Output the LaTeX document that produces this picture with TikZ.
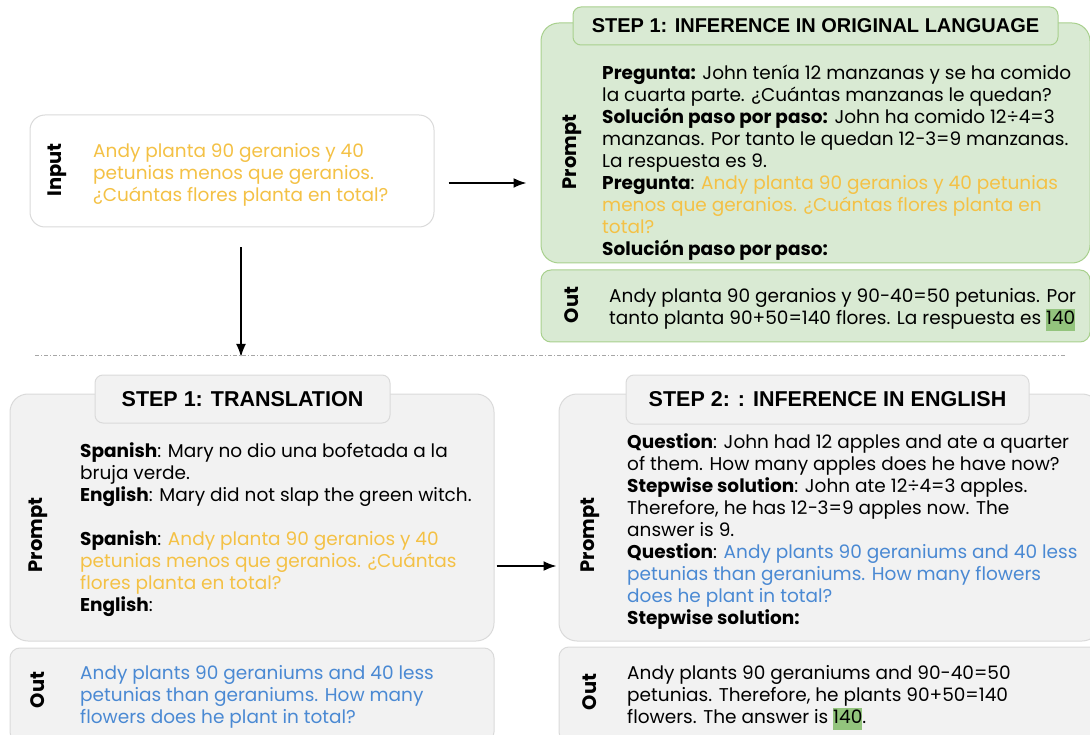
\documentclass[tikz,border=0pt]{standalone}
\usepackage{fontspec}
\setmainfont{Poppins}
\newfontfamily\headfont{Liberation Sans}
\usetikzlibrary{arrows.meta,positioning}
\definecolor{boxgray}{HTML}{F2F2F2}
\definecolor{linegray}{HTML}{DADADA}
\definecolor{boxgreen}{HTML}{D9EAD3}
\definecolor{linegreen}{HTML}{A8D08D}
\definecolor{hlgreen}{HTML}{93C47D}
\definecolor{txtyellow}{HTML}{F4C145}
\definecolor{txtblue}{HTML}{4A89D3}
\newcommand{\hlnum}[1]{{\setlength{\fboxsep}{0pt}\colorbox{hlgreen}{\strut #1}}}
\newcommand{\ylw}[1]{\textcolor{txtyellow}{#1}}
\newcommand{\blu}[1]{\textcolor{txtblue}{#1}}
\tikzset{
    panel/.style={
           rectangle,
           rounded corners=18pt,
           draw=linegray, line width=1pt,
           fill=boxgray,
           inner sep=0pt,
           },
    greenpanel/.style={panel, draw=linegreen, fill=boxgreen},
    header/.style={
           rectangle,
           rounded corners=8pt,
           draw=linegray, line width=1pt,
           fill=boxgray,
           inner sep=0pt,
           font=\headfont\bfseries\fontsize{21.5}{24}\selectfont,
           },
    sidelabel/.style={rotate=90, inner sep=0pt, font=\bfseries\fontsize{19.5}{22}\selectfont},
    body/.style={align=left, anchor=west, inner sep=0pt, font=\fontsize{18.5}{22}\selectfont},
    flow/.style={-{Latex[length=13pt,width=10pt]}, line width=1.8pt},
}
\begin{document}
\begin{tikzpicture}[x=1pt,y=-1pt]
  \useasboundingbox (0,0) rectangle (1090,735);

   % input question (top left)
   \node[panel, fill=white, minimum width=404pt, minimum height=112pt, rounded corners=15pt] (INPUT) at (232,171) {};
   \node[sidelabel] (INPUTLBL) at (57,170) {Input};
   \node[body] (INPUTTXT) at (93,174.5)
   {\ylw{Andy planta 90 geranios y 40}\\
    \ylw{petunias menos que geranios.}\\
    \ylw{¿Cuántas flores planta en total?}};

   % step 1 in the original language (top right)
   \node[greenpanel, minimum width=549pt, minimum height=240pt] (ORIGPROMPT) at (815.5,143) {};
   \node[header, greenpanel, rounded corners=8pt, minimum width=485pt, minimum height=38pt,
    font=\headfont\bfseries\fontsize{20}{24}\selectfont] (ORIGTITLE) at (815.5,26)
   {STEP 1: INFERENCE IN ORIGINAL LANGUAGE};
   \node[sidelabel] (ORIGLBL) at (572,152) {Prompt};
   \node[body] (ORIGTXT) at (602,162.5)
   {\textbf{Pregunta:} John tenía 12 manzanas y se ha comido\\
    la cuarta parte. ¿Cuántas manzanas le quedan?\\
    \textbf{Solución paso por paso:} John ha comido 12÷4=3\\
    manzanas. Por tanto le quedan 12−3=9 manzanas.\\
    La respuesta es 9.\\
    \textbf{Pregunta}: \ylw{Andy planta 90 geranios y 40 petunias}\\
    \ylw{menos que geranios. ¿Cuántas flores planta en}\\
    \ylw{total?}\\
    \textbf{Solución paso por paso:}};

   \node[greenpanel, rounded corners=10pt, minimum width=549pt, minimum height=72pt] (ORIGOUT) at (815.5,306) {};
   \node[sidelabel] (ORIGOUTLBL) at (572,305) {Out};
   \node[body] (ORIGOUTTXT) at (609,310)
   {Andy planta 90 geranios y 90-40=50 petunias. Por\\
    tanto planta 90+50=140 flores. La respuesta es \hlnum{140}};

   % separator
   \coordinate (SEPL) at (35,355);
   \coordinate (SEPR) at (1065,355);
   \draw[black!35, line width=0.8pt, dash pattern=on 4pt off 2pt on 1pt off 2pt] (SEPL) -- (SEPR);

   % step 1 translation (bottom left)
   \node[panel, minimum width=484pt, minimum height=247pt] (TRPROMPT) at (252,517.5) {};
   \node[header, minimum width=295pt, minimum height=48pt] (TRTITLE) at (242.5,399) {STEP 1: TRANSLATION};
   \node[sidelabel] (TRLBL) at (38,535) {Prompt};
   \node[body] (TRTXT) at (80,530)
   {\textbf{Spanish}: Mary no dio una bofetada a la\\
    bruja verde.\\
    \textbf{English}: Mary did not slap the green witch.\\
    \mbox{}\\
    \textbf{Spanish}: \ylw{Andy planta 90 geranios y 40}\\
    \ylw{petunias menos que geranios. ¿Cuántas}\\
    \ylw{flores planta en total?}\\
    \textbf{English}:};

   \node[panel, rounded corners=10pt, minimum width=484pt, minimum height=94pt] (TROUT) at (252,695) {};
   \node[sidelabel] (TROUTLBL) at (38,690) {Out};
   \node[body] (TROUTTXT) at (80,697)
   {\blu{Andy plants 90 geraniums and 40 less}\\
    \blu{petunias than geraniums. How many}\\
    \blu{flowers does he plant in total?}};

   % step 2 inference in english (bottom right)
   \node[panel, minimum width=541pt, minimum height=247pt] (ENPROMPT) at (829.5,517.5) {};
   \node[header, minimum width=403pt, minimum height=49pt] (ENTITLE) at (827.5,399.5) {STEP 2: : INFERENCE IN ENGLISH};
   \node[sidelabel] (ENLBL) at (590,535) {Prompt};
   \node[body] (ENTXT) at (627,532)
   {\textbf{Question}: John had 12 apples and ate a quarter\\
    of them. How many apples does he have now?\\
    \textbf{Stepwise solution}: John ate 12÷4=3 apples.\\
    Therefore, he has 12−3=9 apples now. The\\
    answer is 9.\\
    \textbf{Question}: \blu{Andy plants 90 geraniums and 40 less}\\
    \blu{petunias than geraniums. How many flowers}\\
    \blu{does he plant in total?}\\
    \textbf{Stepwise solution:}};

   \node[panel, rounded corners=10pt, minimum width=541pt, minimum height=95pt] (ENOUT) at (829.5,694.5) {};
   \node[sidelabel] (ENOUTLBL) at (590,692) {Out};
   \node[body] (ENOUTTXT) at (627,697.5)
   {Andy plants 90 geraniums and 90-40=50\\
    petunias. Therefore, he plants 90+50=140\\
    flowers. The answer is \hlnum{140}.};

   % the arrows between the steps
   \coordinate (DOWNEND) at (241,357);
   \draw[flow] ([xshift=14pt,yshift=-12pt]INPUT.east) -- ([xshift=-14pt,yshift=-12pt]INPUT.east -| ORIGPROMPT.west);
   \draw[flow] ([xshift=9pt,yshift=-20pt]INPUT.south) -- (DOWNEND);
   \draw[flow] ([xshift=2pt,yshift=-48.5pt]TRPROMPT.east) -- ([xshift=-2pt,yshift=-48.5pt]TRPROMPT.east -| ENPROMPT.west);

\end{tikzpicture}
\end{document}
